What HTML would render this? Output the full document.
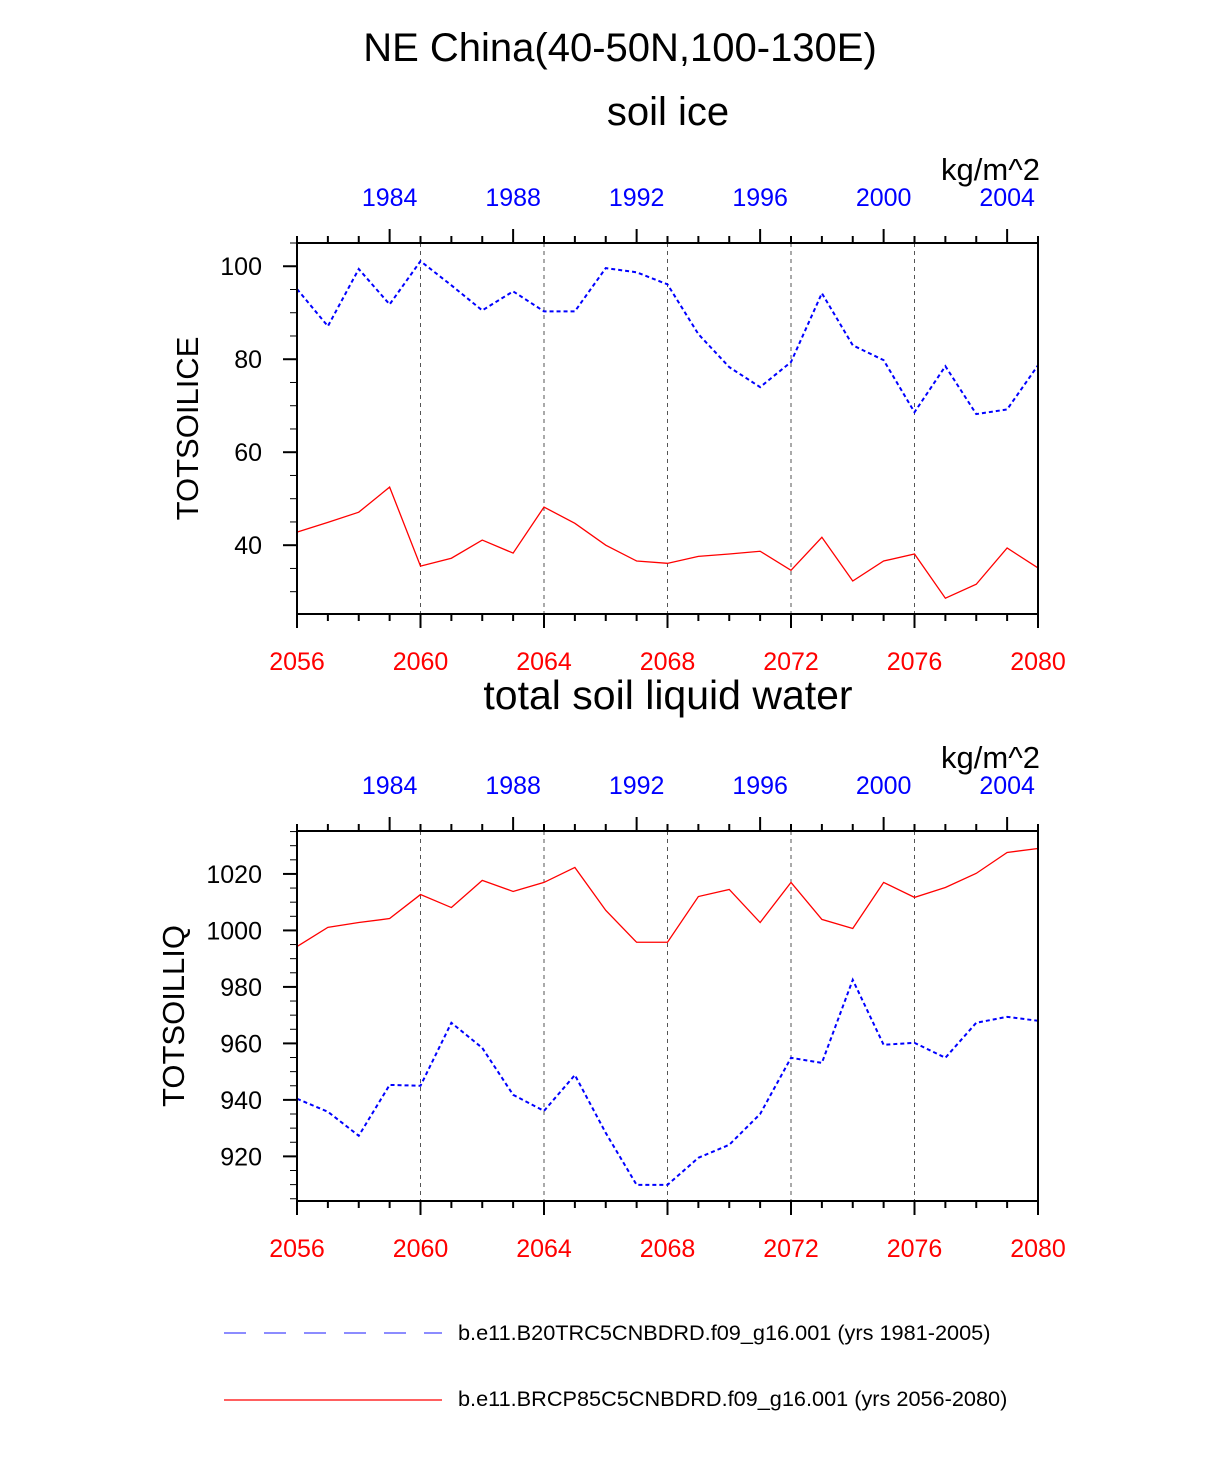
<!DOCTYPE html>
<html><head><meta charset="utf-8"><style>
body{margin:0;background:#fff}
svg text{font-family:"Liberation Sans",sans-serif}
</style></head><body>
<svg id="chart" width="1224" height="1470" xmlns="http://www.w3.org/2000/svg">
<text x="620" y="61" font-size="40" text-anchor="middle">NE China(40-50N,100-130E)</text>
</svg>
<script>
const years = [2056,2057,2058,2059,2060,2061,2062,2063,2064,2065,2066,2067,2068,2069,2070,2071,2072,2073,2074,2075,2076,2077,2078,2079,2080];
const iceHist = [95.1,87.1,99.4,91.8,101.1,95.9,90.5,94.6,90.3,90.3,99.6,98.7,96.1,85.4,78.3,74.0,79.4,94.2,83.0,79.8,68.6,78.5,68.2,69.2,78.7];
const iceFut = [42.8,44.9,47.1,52.5,35.5,37.2,41.1,38.3,48.2,44.7,40.0,36.6,36.1,37.6,38.1,38.7,34.6,41.7,32.3,36.6,38.1,28.6,31.6,39.4,35.1];
const liqFut = [994.3,1001.1,1002.8,1004.2,1012.7,1008.1,1017.7,1013.8,1017.0,1022.3,1007.1,995.8,995.8,1012.0,1014.5,1002.8,1017.0,1003.9,1000.7,1017.0,1011.7,1015.2,1020.2,1027.6,1029.0];
const liqHist = [940.4,935.8,927.3,945.3,945.0,967.3,958.4,941.8,936.1,948.8,928.3,909.9,909.9,919.5,924.1,935.0,954.9,953.1,982.5,959.5,960.2,954.9,967.3,969.4,968.0];
const iceTicks = [40,60,80,100];
const liqTicks = [920,940,960,980,1000,1020];
const topTicks = [1984,1988,1992,1996,2000,2004];
const botTicks = [2056,2060,2064,2068,2072,2076,2080];

const NS="http://www.w3.org/2000/svg";
const svg=document.getElementById('chart');
function el(tag,attrs,parent){const e=document.createElementNS(NS,tag);for(const k in attrs)e.setAttribute(k,attrs[k]);(parent||svg).appendChild(e);return e;}
const L=297,R=1038;
function xs(y){return L+(y-2056)*(R-L)/24;}

function panel(cfg){
  const g=el('g',{});
  
  
  const ys=v=>cfg.top+(cfg.ymax-v)*(cfg.bot-cfg.top)/(cfg.ymax-cfg.ymin);
  let t=el('text',{x:668,y:cfg.titleY,'font-size':cfg.titleSize,'text-anchor':'middle'},g);t.textContent=cfg.title;
  
  t=el('text',{x:1040,y:cfg.top-63,'font-size':31,'text-anchor':'end'},g);t.textContent='kg/m^2';
  
  t=el('text',{x:0,y:0,'font-size':31,'text-anchor':'middle',transform:`translate(${cfg.ytx},${(cfg.top+cfg.bot)/2}) rotate(-90)`},g);t.textContent=cfg.ytitle;
  
  botTicks.forEach(b=>{if(b>2056&&b<2080){const l=el('line',{x1:xs(b),x2:xs(b),y1:cfg.top,y2:cfg.bot,stroke:'#555','stroke-width':1,'stroke-dasharray':'4,4'},g);
    }});
  for(let y=2056;y<=2080;y++){const maj=(y-2056)%4==0;el('line',{x1:xs(y),x2:xs(y),y1:cfg.bot,y2:cfg.bot+(maj?14:7),stroke:'#000','stroke-width':2},g);}
  botTicks.forEach(b=>{const tt=el('text',{x:xs(b),y:cfg.bot+56,'font-size':25,'text-anchor':'middle',fill:'#f00'},g);tt.textContent=b;
    });
  for(let y=1981;y<=2005;y++){const maj=(y-1984)%4==0;el('line',{x1:xs(y+75),x2:xs(y+75),y1:cfg.top,y2:cfg.top-(maj?14:7),stroke:'#000','stroke-width':2},g);}
  topTicks.forEach(b=>{const tt=el('text',{x:xs(b+75),y:cfg.top-37,'font-size':25,'text-anchor':'middle',fill:'#00f'},g);tt.textContent=b;
    });
  for(let v=Math.ceil(cfg.ymin/5)*5;v<=cfg.ymax;v+=5){const maj=v%20==0;el('line',{x1:L,x2:L-(maj?14:7),y1:ys(v),y2:ys(v),stroke:'#000','stroke-width':maj?2:1},g);}
  cfg.ticks.forEach(v=>{const tt=el('text',{x:L-35,y:ys(v)+9,'font-size':25,'text-anchor':'end'},g);tt.textContent=v;
    });
  const pts=a=>a.map((v,i)=>xs(years[i])+','+ys(v)).join(' ');
  const pf=el('polyline',{points:pts(cfg.fut),fill:'none',stroke:'#f00','stroke-width':1.3},g);
  
  const ph=el('polyline',{points:pts(cfg.hist),fill:'none',stroke:'#00f','stroke-width':2,'stroke-dasharray':'4,3'},g);
  
  const fr=el('rect',{x:L,y:cfg.top,width:R-L,height:cfg.bot-cfg.top,fill:'none',stroke:'#000','stroke-width':2},g);
  
}
panel({name:'soil-ice-panel',title:'soil ice',titleY:125,titleSize:40,ytitle:'TOTSOILICE',ytx:198,top:243,bot:614,ymin:25.2,ymax:105,ticks:iceTicks,hist:iceHist,fut:iceFut});
panel({name:'soil-liquid-panel',title:'total soil liquid water',titleY:709,titleSize:41,ytitle:'TOTSOILLIQ',ytx:184,top:831,bot:1201,ymin:904.2,ymax:1035.2,ticks:liqTicks,hist:liqHist,fut:liqFut});

const lg=el('g',{});

let ln=el('line',{x1:224,x2:442,y1:1333,y2:1333,stroke:'#66f','stroke-width':1.5,'stroke-dasharray':'22,18'},lg);

let tx=el('text',{x:458,y:1340,'font-size':21.7},lg);tx.textContent='b.e11.B20TRC5CNBDRD.f09_g16.001 (yrs 1981-2005)';

ln=el('line',{x1:224,x2:442,y1:1400,y2:1400,stroke:'#f00','stroke-width':1.3},lg);

tx=el('text',{x:458,y:1406,'font-size':21.7},lg);tx.textContent='b.e11.BRCP85C5CNBDRD.f09_g16.001 (yrs 2056-2080)';

</script>
</body></html>
